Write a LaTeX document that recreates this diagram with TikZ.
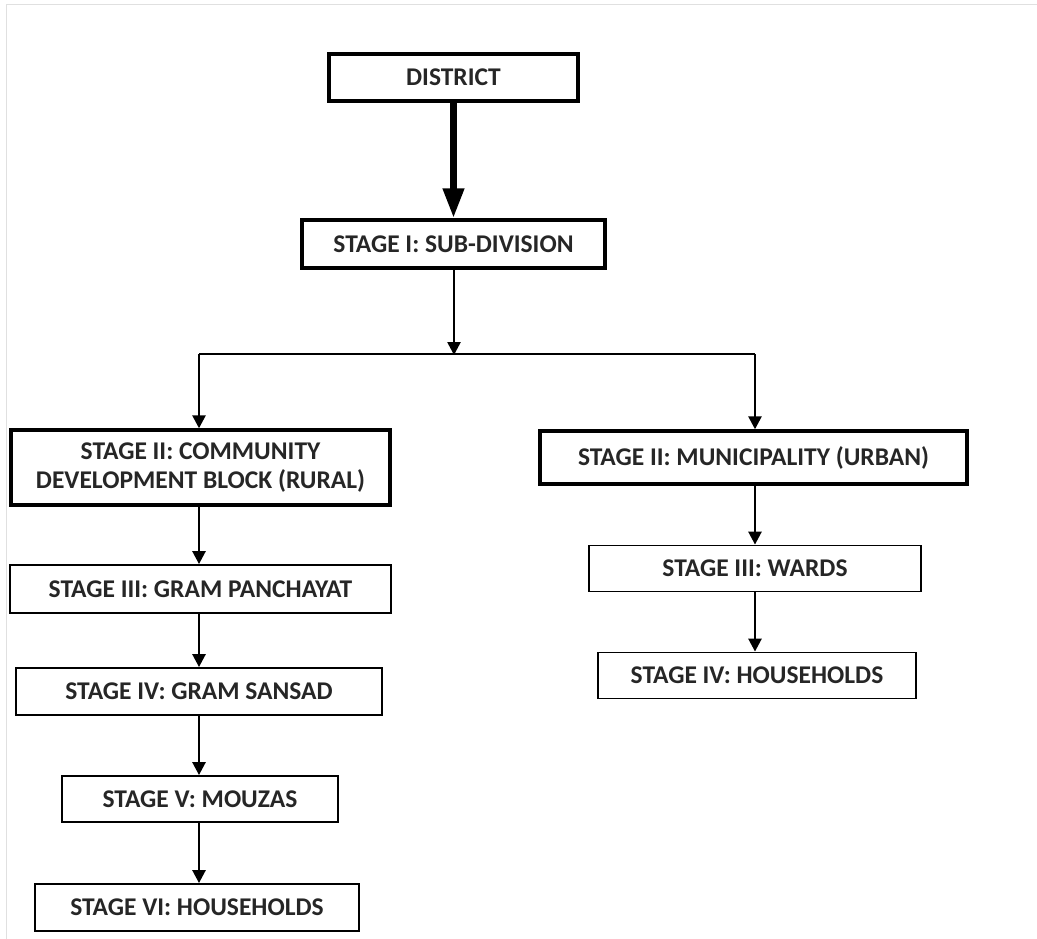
\documentclass[tikz,border=0pt]{standalone}
\usepackage{fontspec}
\setmainfont{Carlito}
\usetikzlibrary{arrows.meta}
\begin{document}
\begin{tikzpicture}[x=1pt,y=-1pt,
  box/.style={draw=black, line width=1.8pt, fill=white, inner sep=0pt, align=center,
    font=\fontsize{25.5}{29}\selectfont\bfseries, text=black!85},
  thickbox/.style={box, line width=3.4pt},
  arr/.style={line width=2.6pt, -{Triangle[length=13pt,width=13pt]}},
  bigarr/.style={line width=7pt, -{Triangle[length=30pt,width=20pt]}},
  frameline/.style={draw=black!12, line width=1pt}]
\useasboundingbox (0,0) rectangle (1037,939);
\fill[white] (0,0) rectangle (1037,939);
\draw[frameline] (6,939) -- (6,5) -- (1037,5);

\node[thickbox, minimum width=249pt, minimum height=47pt] (district) at (453.5,77.5) {DISTRICT};
\node[thickbox, minimum width=303pt, minimum height=48pt] (s1) at (453.5,244) {STAGE I: SUB-DIVISION};
\node[thickbox, minimum width=379pt, minimum height=75pt] (cdb) at (200.5,467.5) {STAGE II: COMMUNITY\\DEVELOPMENT BLOCK (RURAL)};
\node[box, minimum width=381pt, minimum height=48pt] (gp) at (200.5,589) {STAGE III: GRAM PANCHAYAT};
\node[box, minimum width=366pt, minimum height=47pt] (gs) at (199,691.5) {STAGE IV: GRAM SANSAD};
\node[box, minimum width=276pt, minimum height=46pt] (mz) at (200,799) {STAGE V: MOUZAS};
\node[box, minimum width=324pt, minimum height=47pt] (hh) at (197,907.5) {STAGE VI: HOUSEHOLDS};
\node[thickbox, minimum width=427pt, minimum height=53pt] (mun) at (753.5,457.5) {STAGE II: MUNICIPALITY (URBAN)};
\node[box, minimum width=332pt, minimum height=46pt] (wd) at (755,568.5) {STAGE III: WARDS};
\node[box, minimum width=318pt, minimum height=46pt] (hh2) at (757,675.5) {STAGE IV: HOUSEHOLDS};

\coordinate (jm) at (454,354);
\coordinate (jl) at (199,354);
\coordinate (jr) at (755,354);
\coordinate (lx) at (199,0);
\coordinate (rx) at (755,0);

\draw[bigarr] (district.south) -- (s1.north);
\draw[arr] (s1.south -| jm) -- ([yshift=-1pt]jm);
\draw[line width=2.8pt] (jl) -- (jr);
\draw[arr] (jl) -- (jl |- cdb.north);
\draw[arr] (jr) -- (jr |- mun.north);
\draw[arr] (lx |- cdb.south) -- (lx |- gp.north);
\draw[arr] (lx |- gp.south) -- (lx |- gs.north);
\draw[arr] (lx |- gs.south) -- (lx |- mz.north);
\draw[arr] (lx |- mz.south) -- (lx |- hh.north);
\draw[arr] (rx |- mun.south) -- (rx |- wd.north);
\draw[arr] (rx |- wd.south) -- (rx |- hh2.north);
\end{tikzpicture}
\end{document}
